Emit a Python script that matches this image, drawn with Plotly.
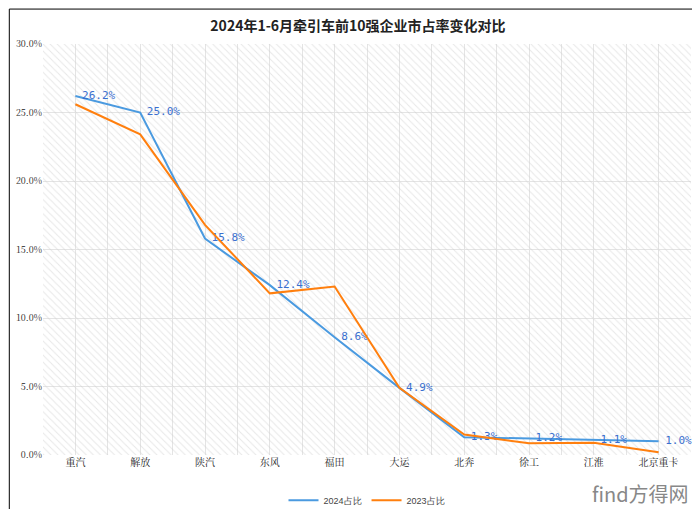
import plotly.graph_objects as go

companies = ["重汽", "解放", "陕汽", "东风", "福田", "大运", "北奔", "徐工", "江淮", "北京重卡"]
share_2024 = [26.2, 25.0, 15.8, 12.4, 8.6, 4.9, 1.3, 1.2, 1.1, 1.0]
share_2023 = [25.6, 23.4, 16.8, 11.8, 12.3, 4.9, 1.5, 0.85, 0.9, 0.2]

fig = go.Figure()

# hatched background of the plot area (drawn on the bottom axes)
fig.add_trace(go.Scatter(x=[0, 1, 1, 0, 0], y=[0, 0, 1, 1, 0], xaxis="x", yaxis="y",
                         mode="lines", line_width=0, fill="toself", fillcolor="rgba(0,0,0,0)",
                         fillpattern=dict(shape="\\", fgcolor="#d0d0d0", bgcolor="rgba(0,0,0,0)",
                                          size=5, solidity=0.2),
                         hoverinfo="skip", showlegend=False))

fig.add_trace(go.Scatter(x=companies, y=share_2024, name="2024占比", mode="lines+text",
                         xaxis="x2", yaxis="y2", cliponaxis=False,
                         line=dict(color="#4a9ae0", width=2),
                         text=[f" {v:.1f}%" for v in share_2024], textposition="middle right",
                         textfont=dict(family="DejaVu Sans Mono", size=11, color="#3a6fcf")))
fig.add_trace(go.Scatter(x=companies, y=share_2023, name="2023占比", mode="lines",
                         xaxis="x2", yaxis="y2",
                         line=dict(color="#ff7f0e", width=2)))

fig.add_annotation(text="find方得网", xref="paper", yref="paper", x=1.0, y=-0.135,
                   xanchor="right", yanchor="bottom", showarrow=False,
                   font=dict(size=20, color="#888888", family="Noto Sans CJK SC"))

fig.update_layout(
    width=700, height=509,
    margin=dict(l=35, r=17, t=36, b=62, autoexpand=False),
    paper_bgcolor="white", plot_bgcolor="white",
    title=dict(text="<b>2024年1-6月牵引车前10强企业市占率变化对比</b>", x=0.5, y=0.975,
               font=dict(size=14, family="Noto Sans CJK SC", color="#222")),
    font=dict(family="Noto Serif CJK SC, Noto Sans CJK SC", size=10, color="#222"),
    xaxis=dict(range=[0, 1], dtick=0.05, showgrid=True, gridcolor="#e4e4e4",
               showticklabels=False, zeroline=False, ticks=""),
    yaxis=dict(range=[0, 1], visible=False),
    xaxis2=dict(overlaying="x", showgrid=False, zeroline=False,
                tickfont=dict(size=10), range=[-0.5, 9.5], anchor="y2"),
    yaxis2=dict(overlaying="y", range=[0, 30], dtick=5, ticksuffix="%", tickformat=".1f",
                gridcolor="#e4e4e4", zeroline=False, tickfont=dict(size=9), anchor="x2",
                side="left"),
    legend=dict(orientation="h", x=0.5, y=-0.075, xanchor="center", yanchor="top",
                font=dict(size=9, family="Liberation Sans", color="#444")),
    showlegend=True,
)
fig.add_shape(type="rect", xref="paper", yref="paper", x0=-0.052, y0=-0.142, x1=1.023, y1=1.085,
              line=dict(color="black", width=1))

fig.write_html("out.html")
